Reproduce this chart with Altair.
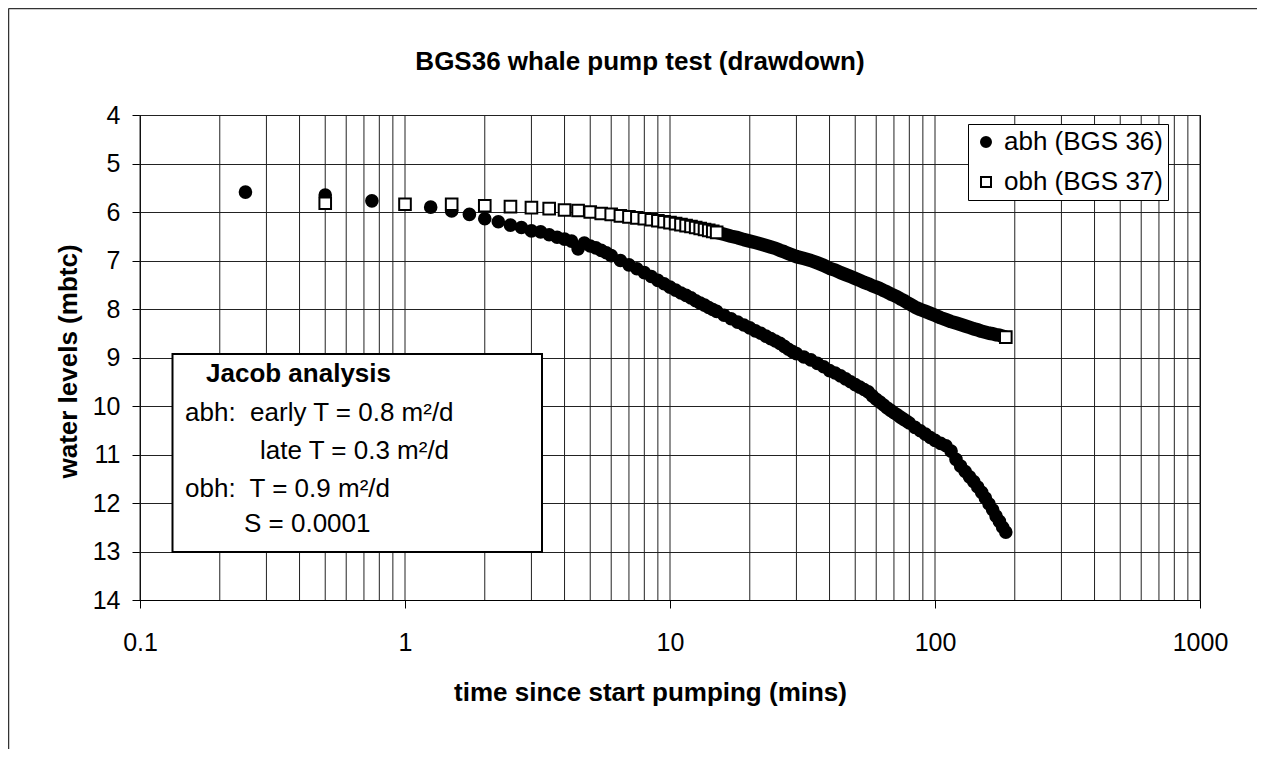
import altair as alt
import pandas as pd

# ---------------- data ----------------
TITLE = "BGS36 whale pump test (drawdown)"
X_TITLE = "time since start pumping (mins)"
Y_TITLE = "water levels (mbtc)"
SERIES = ["abh (BGS 36)", "obh (BGS 37)"]

X_TICKS = [0.1, 1, 10, 100, 1000]
Y_TICKS = [4, 5, 6, 7, 8, 9, 10, 11, 12, 13, 14]
X_GRID = [0.1, 0.2, 0.3, 0.4, 0.5, 0.6, 0.7, 0.8, 0.9,
          1, 2, 3, 4, 5, 6, 7, 8, 9,
          10, 20, 30, 40, 50, 60, 70, 80, 90,
          100, 200, 300, 400, 500, 600, 700, 800, 900, 1000]

ABH_T = [0.25, 0.5, 0.75, 1.25, 1.5, 1.75, 2.0, 2.25, 2.5, 2.75, 3.0, 3.25,
         3.5, 3.75, 4.0, 4.25, 4.5, 4.75, 5.0, 5.25, 5.5, 5.75, 6.0,
         6.5, 7.0, 7.5, 8.0, 8.5, 9.0, 9.5, 10.0, 10.5, 11.0, 11.5, 12.0,
         12.5, 13.0, 13.5, 14.0, 14.5, 15.0,
         16, 17, 18, 19, 20, 21, 22, 23, 24, 25, 26, 27, 28, 29, 30,
         32, 34, 36, 38, 40, 42, 44, 46, 48, 50, 52, 54, 56, 58, 60,
         62, 64, 66, 68, 70, 72, 74, 76, 78, 80, 84, 88, 92, 96, 100,
         105, 110, 115, 120, 125, 130, 135, 140, 145, 150, 155, 160, 165, 170, 175, 180, 185]
ABH_LEVEL = [5.59, 5.65, 5.77, 5.90, 5.98, 6.05, 6.14, 6.20, 6.27, 6.32, 6.39, 6.41,
             6.47, 6.52, 6.56, 6.60, 6.76, 6.64, 6.70, 6.74, 6.79, 6.84, 6.90,
             7.00, 7.09, 7.17, 7.25, 7.33, 7.41, 7.48, 7.55, 7.61, 7.67, 7.72, 7.77,
             7.83, 7.88, 7.92, 7.97, 8.01, 8.05,
             8.13, 8.20, 8.27, 8.33, 8.39, 8.45, 8.50, 8.56, 8.61, 8.66, 8.71, 8.77, 8.83, 8.88, 8.92,
             8.99, 9.05, 9.12, 9.19, 9.27, 9.32, 9.38, 9.44, 9.50, 9.56, 9.61, 9.66, 9.71, 9.79, 9.86,
             9.92, 9.98, 10.04, 10.09, 10.14, 10.18, 10.23, 10.27, 10.31, 10.35, 10.44, 10.51, 10.58, 10.65, 10.71,
             10.77, 10.82, 10.93, 11.10, 11.24, 11.35, 11.46, 11.56, 11.67, 11.78, 11.90, 12.02, 12.14, 12.27,
             12.38, 12.50, 12.60]

OBH_T = [0.5, 1.0, 1.5, 2.0, 2.5, 3.0, 3.5, 4.0, 4.5, 5.0, 5.5, 6.0, 6.5, 7.0, 7.5,
         8.0, 8.5, 9.0, 9.5, 10.0, 10.5, 11.0, 11.5, 12.0, 12.5, 13.0, 13.5, 14.0, 14.5, 15.0,
         16, 17, 18, 19, 20, 21, 22, 23, 24, 25, 26, 27, 28, 29, 30,
         32, 34, 36, 38, 40, 42, 44, 46, 48, 50, 52, 54, 56, 58, 60,
         62, 64, 66, 68, 70, 72, 74, 76, 78, 80, 84, 88, 92, 96, 100,
         105, 110, 115, 120, 125, 130, 135, 140, 145, 150, 155, 160, 165, 170, 175, 180, 185]
OBH_LEVEL = [5.82, 5.84, 5.84, 5.87, 5.89, 5.91, 5.93, 5.96, 5.97, 6.00, 6.03, 6.05, 6.08, 6.10, 6.12,
             6.14, 6.16, 6.18, 6.20, 6.22, 6.24, 6.26, 6.28, 6.30, 6.32, 6.34, 6.36, 6.38, 6.40, 6.42,
             6.46, 6.50, 6.53, 6.57, 6.60, 6.63, 6.66, 6.69, 6.72, 6.75, 6.79, 6.82, 6.86, 6.89, 6.92,
             6.96, 7.00, 7.05, 7.10, 7.16, 7.20, 7.25, 7.29, 7.33, 7.37, 7.41, 7.45, 7.48, 7.52, 7.55,
             7.58, 7.62, 7.65, 7.69, 7.72, 7.75, 7.79, 7.82, 7.86, 7.89, 7.96, 8.01, 8.05, 8.09, 8.13,
             8.18, 8.22, 8.26, 8.29, 8.32, 8.35, 8.38, 8.41, 8.43, 8.46, 8.48, 8.50, 8.51, 8.53,
             8.54, 8.56, 8.58]

JACOB_LINES = ["Jacob analysis",
               "abh:\u00a0 early T = 0.8 m\u00b2/d",
               "late T = 0.3 m\u00b2/d",
               "obh:\u00a0 T = 0.9 m\u00b2/d",
               "S = 0.0001"]

# ---------------- layout / style ----------------
FONT = "Liberation Sans"
W, H = 1060, 485
JACOB_POS = [(66, 267, "bold"), (45, 306, "normal"), (120, 344, "normal"),
             (45, 382, "normal"), (104, 417, "normal")]

df = pd.concat([
    pd.DataFrame({"t": ABH_T, "level": ABH_LEVEL, "series": SERIES[0]}),
    pd.DataFrame({"t": OBH_T, "level": OBH_LEVEL, "series": SERIES[1]}),
], ignore_index=True)

x_scale = alt.Scale(type="log", domain=[0.1, 1000], nice=False)
y_scale = alt.Scale(domain=[4, 14], reverse=True, nice=False, zero=False)

x_axis = alt.Axis(values=X_TICKS, format="~g", grid=False, labelFontSize=25, labelFont=FONT,
                  labelColor="black", labelPadding=22, labelFlush=False, labelOverlap=False,
                  tickSize=8, tickColor="black", tickWidth=1, domainColor="black", domainWidth=1,
                  title=X_TITLE, titleFontSize=26, titleFont=FONT, titleFontWeight="bold",
                  titleColor="black", titleX=510, titleY=100, titleBaseline="alphabetic")
y_axis = alt.Axis(values=Y_TICKS, grid=True, gridColor="#222", gridWidth=1,
                  labelFontSize=25, labelFont=FONT, labelColor="black", labelPadding=12,
                  labelFlush=False, labelOverlap=False,
                  tickSize=8, tickColor="black", tickWidth=1, domainColor="black", domainWidth=1,
                  title=Y_TITLE, titleFontSize=26, titleFont=FONT, titleFontWeight="bold",
                  titleColor="black", titleX=-64, titleY=246, titleBaseline="alphabetic")


def xe(field="t"):
    return alt.X(f"{field}:Q", scale=x_scale, axis=x_axis)


def ye(field="level"):
    return alt.Y(f"{field}:Q", scale=y_scale, axis=y_axis)


leg = alt.Legend(title=None, orient="none", legendX=828, legendY=9, strokeColor="black",
                 fillColor="white", padding=5, labelFontSize=26, labelFont=FONT,
                 labelColor="black", symbolSize=100, symbolStrokeWidth=2,
                 rowPadding=14, labelOffset=5, labelLimit=400)

dummy = pd.DataFrame({"k": [0]})

grid = alt.Chart(pd.DataFrame({"t": X_GRID})).mark_rule(color="#222", strokeWidth=1).encode(
    x=xe(), y=alt.value(0), y2=alt.value(H))

frame_top = alt.Chart(dummy).mark_rule(color="#333", strokeWidth=1.5).encode(
    x=alt.value(-131.5), x2=alt.value(1117), y=alt.value(-106.5))
frame_left = alt.Chart(dummy).mark_rule(color="#333", strokeWidth=1.5).encode(
    x=alt.value(-131.5), y=alt.value(-106.5), y2=alt.value(634))

band = alt.Chart(df).transform_filter(
    f"datum.series == '{SERIES[1]}' && datum.t >= 15"
).mark_line(color="black", strokeWidth=13.5, strokeCap="butt", strokeJoin="round").encode(
    x=xe(), y=ye(), order="t:Q")

points = alt.Chart(df).transform_filter(
    f"datum.series == '{SERIES[0]}' || datum.t <= 15 || datum.t >= 185"
).mark_point(filled=True, size=135, strokeWidth=2, opacity=1).encode(
    x=xe(), y=ye(),
    shape=alt.Shape("series:N", scale=alt.Scale(domain=SERIES, range=["circle", "square"]), legend=leg),
    fill=alt.Fill("series:N", scale=alt.Scale(domain=SERIES, range=["black", "white"]), legend=leg),
    stroke=alt.Stroke("series:N", scale=alt.Scale(domain=SERIES, range=["black", "#000000"]), legend=leg),
)

jacob_box = alt.Chart(dummy).mark_rect(fill="white", stroke="black", strokeWidth=2).encode(
    x=alt.value(32.5), x2=alt.value(402), y=alt.value(239), y2=alt.value(437))

texts = []
for line, (px, py, wt) in zip(JACOB_LINES, JACOB_POS):
    texts.append(alt.Chart(pd.DataFrame({"label": [line]})).mark_text(
        align="left", baseline="alphabetic", fontSize=26, font=FONT, fontWeight=wt, color="black"
    ).encode(x=alt.value(px), y=alt.value(py), text="label:N"))

title = alt.Chart(pd.DataFrame({"label": [TITLE]})).mark_text(
    align="center", baseline="alphabetic", fontSize=26, font=FONT, fontWeight="bold", color="black"
).encode(x=alt.value(500), y=alt.value(-45), text="label:N")

chart = alt.layer(grid, frame_top, frame_left, band, points, jacob_box, *texts, title).properties(
    width=W, height=H,
    padding={"left": 132, "top": 107, "right": 58, "bottom": 150},
    autosize=alt.AutoSizeParams(type="none"),
    background="white",
).configure_view(stroke="black", strokeWidth=1)

chart.save("out.html", embed_options={"renderer": "svg", "actions": False})
